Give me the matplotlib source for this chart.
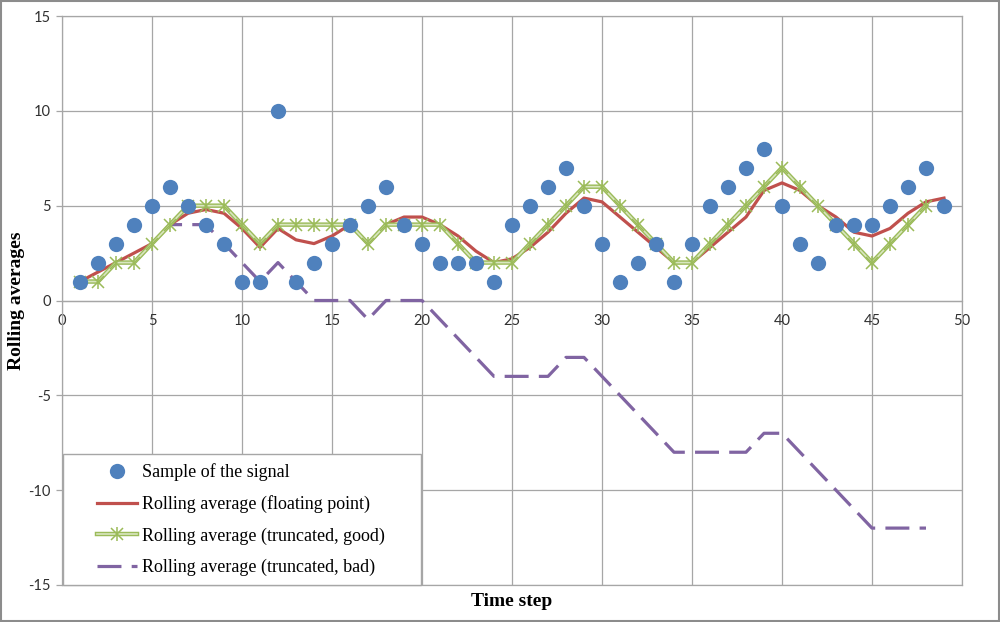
import matplotlib
matplotlib.use('Agg')
import matplotlib.pyplot as plt
from matplotlib.lines import Line2D
from matplotlib.legend_handler import HandlerLine2D, HandlerTuple
from matplotlib.patches import Rectangle

plt.rcParams['axes.unicode_minus'] = False

steps = list(range(1, 50))
signal = [1, 2, 3, 4, 5, 6, 5, 4, 3, 1, 1, 10, 1, 2, 3, 4, 5, 6, 4, 3,
          2, 2, 2, 1, 4, 5, 6, 7, 5, 3, 1, 2, 3, 1, 3, 5, 6, 7, 8, 5,
          3, 2, 4, 4, 4, 5, 6, 7, 5]
avg_float = [1.0, 1.5, 2.0, 2.5, 3.0, 4.0, 4.6, 4.8, 4.6, 3.8,
             2.8, 3.8, 3.2, 3.0, 3.4, 4.0, 3.0, 4.0, 4.4, 4.4,
             4.0, 3.4, 2.6, 2.0, 2.2, 2.8, 3.6, 4.6, 5.4, 5.2,
             4.4, 3.6, 2.8, 2.0, 2.0, 2.8, 3.6, 4.4, 5.8, 6.2,
             5.8, 5.0, 4.4, 3.6, 3.4, 3.8, 4.6, 5.2, 5.4]
steps_trunc = list(range(1, 49))
avg_good = [1, 1, 2, 2, 3, 4, 5, 5, 5, 4, 3, 4, 4, 4, 4, 4, 3, 4, 4, 4,
            4, 3, 2, 2, 2, 3, 4, 5, 6, 6, 5, 4, 3, 2, 2, 3, 4, 5, 6, 7,
            6, 5, 4, 3, 2, 3, 4, 5]
avg_bad = [1, 1, 2, 2, 3, 4, 4, 4, 3, 2, 1, 2, 1, 0, 0, 0, -1, 0, 0, 0,
           -1, -2, -3, -4, -4, -4, -4, -3, -3, -4, -5, -6, -7, -8, -8, -8, -8, -8, -7, -7,
           -8, -9, -10, -11, -12, -12, -12, -12]

labels = ['Sample of the signal', 'Rolling average (floating point)',
          'Rolling average (truncated, good)', 'Rolling average (truncated, bad)']

blue = '#4F81BD'
red = '#C0504D'
green = '#9BBB59'
purple = '#8064A2'
gridc = '#A6A6A6'

fig = plt.figure(figsize=(10, 6.22), dpi=100)
ax = fig.add_axes([0.062, 1 - 585 / 622, 0.9, (585 - 16) / 622])

bad_line, = ax.plot(steps_trunc, avg_bad, color=purple, lw=2.3, dashes=(7.5, 3.2), zorder=3)
float_line, = ax.plot(steps, avg_float, color=red, lw=2.3, zorder=4)
good_outer, = ax.plot(steps_trunc, avg_good, color=green, lw=3.2, zorder=5)
good_inner, = ax.plot(steps_trunc, avg_good, color='#D9E6C0', lw=1.2, zorder=5)
good_x, = ax.plot(steps_trunc, avg_good, ls='none', marker='x', ms=8, mew=1.1, color=green, zorder=6)
good_v, = ax.plot(steps_trunc, avg_good, ls='none', marker='|', ms=10, mew=1.1, color=green, zorder=6)
sig, = ax.plot(steps, signal, ls='none', marker='o', ms=11, color=blue, mec='none', zorder=7)

ax.set_xlim(0, 50)
ax.set_ylim(-15, 15)
ax.set_xticks(range(0, 51, 5))
ax.set_yticks(range(-15, 16, 5))
ax.grid(True, color=gridc, lw=0.9)
ax.set_axisbelow(True)
ax.axhline(-15, color=gridc, lw=0.9, clip_on=False, zorder=0.5)

ax.spines['bottom'].set_position(('data', 0))
for s in ['top', 'right', 'left', 'bottom']:
    ax.spines[s].set_color(gridc)
    ax.spines[s].set_linewidth(0.9)
ax.tick_params(axis='x', length=0, pad=10, labelsize=10.5, labelcolor='#303030')
ax.tick_params(axis='y', length=4, width=0.9, color=gridc, pad=4, labelsize=10.5, labelcolor='#303030')
for lab in ax.get_xticklabels() + ax.get_yticklabels():
    lab.set_family('Lato')

serif = 'Liberation Serif'
fig.text(0.512, 1 - 602 / 622, 'Time step', ha='center', va='center',
         family=serif, fontweight='bold', fontsize=14)
fig.text(0.017, 1 - 301 / 622, 'Rolling averages', ha='center', va='center',
         rotation=90, family=serif, fontweight='bold', fontsize=14)

handles = [sig, float_line, (good_outer, good_inner, good_x, good_v), bad_line]
leg = ax.legend(handles, labels, loc='lower left',
                bbox_to_anchor=(0.001, 0.0, 0.398, 0.227), mode='expand',
                borderaxespad=0, fancybox=False, framealpha=1, edgecolor=gridc,
                prop={'family': serif, 'size': 13}, handlelength=3.6,
                handletextpad=0.3, labelspacing=0.78, borderpad=0.5,
                handler_map={Line2D: HandlerLine2D(xpad=1.4),
                             tuple: HandlerTuple(ndivide=1, xpad=1.4)})
leg.set_zorder(10)
leg.get_frame().set_linewidth(1.0)

fig.add_artist(Rectangle((0.001, 0.0015), 0.998, 0.997, transform=fig.transFigure,
                         fill=False, edgecolor='#8C8C8C', lw=1.5))

fig.savefig('out.png', dpi=100)
